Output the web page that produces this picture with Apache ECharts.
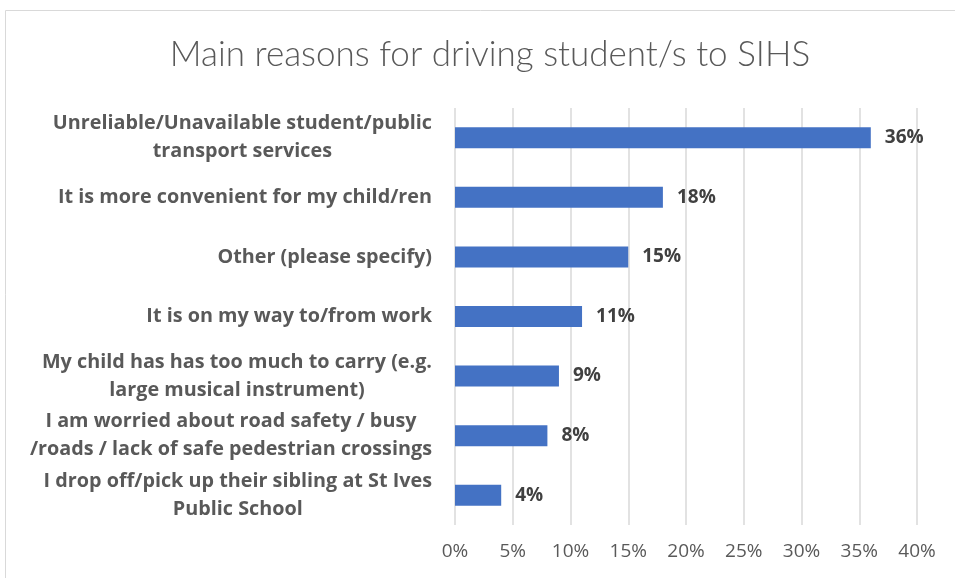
<!DOCTYPE html>
<html>
<head>
<meta charset="utf-8">
<script src="https://cdn.jsdelivr.net/npm/echarts@6/dist/echarts.min.js"></script>
<style>
  html, body { margin: 0; padding: 0; background: #fff; }
  #chart { width: 955px; height: 578px; }
</style>
</head>
<body>
<div id="chart"></div>
<script>
"use strict";

// categories top to bottom, as in the picture
const reasons = [
  "Unreliable/Unavailable student/public\ntransport services",
  "It is more convenient for my child/ren",
  "Other (please specify)",
  "It is on my way to/from work",
  "My child has has too much to carry (e.g.\nlarge musical instrument)",
  "I am worried about road safety / busy\n/roads / lack of safe pedestrian crossings",
  "I drop off/pick up their sibling at St Ives\nPublic School",
];
const share_pct = [36, 18, 15, 11, 9, 8, 4];

const x_ticks = [0, 5, 10, 15, 20, 25, 30, 35, 40];

const chart = echarts.init(document.getElementById("chart"));
const font = "'Open Sans', Lato, sans-serif";

chart.setOption({
  animation: false,
  title: {
    text: "Main reasons for driving student/s to SIHS",
    left: 485,
    top: 32,
    textAlign: "center",
    textStyle: {
      fontFamily: "Lato, sans-serif",
      fontWeight: 300,
      fontSize: 35,
      color: "#595959",
    },
  },
  graphic: [
    {
      // chart frame
      type: "rect",
      shape: { x: 5.5, y: 10.5, width: 1000, height: 600 },
      style: { fill: "none", stroke: "#d9d9d9", lineWidth: 1 },
      silent: true,
    },
  ],
  grid: {
    left: 455,
    right: 38,
    top: 108,
    bottom: 53,
    containLabel: false,
  },
  xAxis: {
    type: "value",
    min: x_ticks[0],
    max: x_ticks[x_ticks.length - 1],
    interval: 5,
    axisLine: { show: false },
    axisTick: { show: false },
    splitLine: { lineStyle: { color: "#d9d9d9", width: 1.5 } },
    axisLabel: {
      margin: 17,
      fontFamily: font,
      fontSize: 19,
      color: "#595959",
      formatter: (v) => v + "%",
    },
  },
  yAxis: {
    type: "category",
    inverse: true,
    data: reasons,
    axisLine: { show: false },
    axisTick: { show: false },
    axisLabel: {
      margin: 23,
      formatter: (v) =>
        v.split("\n").map((line) => "{c|" + line + "}").join("\n"),
      rich: {
        c: {
          align: "center",
          fontFamily: font,
          fontWeight: "bold",
          fontSize: 19.8,
          lineHeight: 28,
          color: "#595959",
        },
      },
    },
  },
  series: [
    {
      type: "bar",
      data: share_pct,
      barWidth: 21,
      itemStyle: { color: "#4472c4" },
      label: {
        show: true,
        position: "right",
        distance: 14,
        formatter: (p) => p.value + "%",
        fontFamily: font,
        fontWeight: "bold",
        fontSize: 19,
        color: "#404040",
      },
    },
  ],
});
</script>
</body>
</html>
